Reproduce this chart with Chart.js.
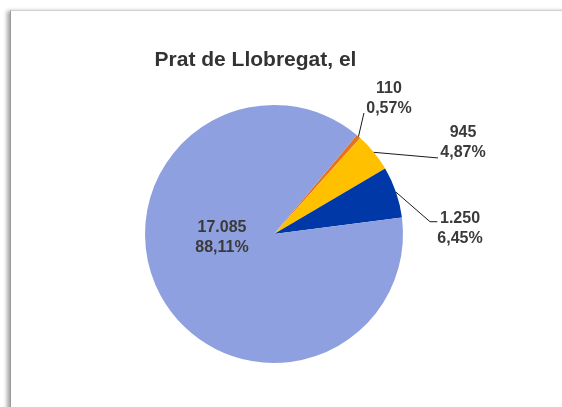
<!DOCTYPE html>
<html>
<head>
<meta charset="utf-8">
<script src="https://cdn.jsdelivr.net/npm/chart.js@4/dist/chart.umd.min.js"></script>
<style>
    body { margin: 0; background: #fff; }
    #wrap { position: relative; width: 562px; height: 407px; overflow: hidden; background: #fff; }
    #frame {
        position: absolute; left: 10px; top: 10px; width: 600px; height: 450px;
        border-left: 1px solid #9a9a9a; border-top: 1px solid #d0d0d0;
        box-shadow: -3px 1px 4px rgba(0,0,0,0.35);
        background: #fff;
    }
    #pie { position: absolute; left: 0; top: 0; }
</style>
</head>
<body>
<div id="wrap">
    <div id="frame"></div>
    <canvas id="pie" width="562" height="407"></canvas>
</div>
<script>
// data
let chartTitle = 'Prat de Llobregat, el';
let categories = ['Categoria 1', 'Categoria 2', 'Categoria 3', 'Categoria 4'];
let values = [110, 945, 1250, 17085];
let colors = ['#E8731F', '#FFC000', '#0038A8', '#8FA0E0'];

// label placement (in radius units from the centre) and leader line ends (px from label)
let labelPos = [[0.891, -1.058], [1.465, -0.719], [1.442, -0.054], [-0.403, 0.016]];
let leaders = [
    [[-25, 15.5]],
    [[-25, 16.7]],
    [[-30, -5.3], [-22.7, -5.3]],
    null
];

function fmtNum(v) {
    return String(v).replace(/\B(?=(\d{3})+(?!\d))/g, '.');
}
function fmtPct(v, total) {
    return (v / total * 100).toFixed(2).replace('.', ',') + '%';
}

let pieLabels = {
    id: 'pieLabels',
    afterDatasetsDraw(chart) {
        let ctx = chart.ctx;
        let meta = chart.getDatasetMeta(0);
        let total = values.reduce((a, b) => a + b, 0);
        ctx.save();
        meta.data.forEach((arc, i) => {
            let r = arc.outerRadius;
            let lx = arc.x + labelPos[i][0] * r;
            let ly = arc.y + labelPos[i][1] * r;
            if (leaders[i]) {
                let mid = (arc.startAngle + arc.endAngle) / 2;
                ctx.beginPath();
                ctx.moveTo(arc.x + Math.cos(mid) * r, arc.y + Math.sin(mid) * r);
                leaders[i].forEach(p => ctx.lineTo(lx + p[0], ly + p[1]));
                ctx.strokeStyle = '#1a1a1a';
                ctx.lineWidth = 1;
                ctx.stroke();
            }
            ctx.fillStyle = '#3a3a3a';
            ctx.font = 'bold 16px "Liberation Sans", Arial, sans-serif';
            ctx.textAlign = 'center';
            ctx.textBaseline = 'alphabetic';
            ctx.fillText(fmtNum(values[i]), lx, ly - 10 + 5.5);
            ctx.fillText(fmtPct(values[i], total), lx, ly + 10 + 5.5);
        });
        // title
        ctx.fillStyle = '#333333';
        ctx.font = 'bold 21px "Liberation Sans", Arial, sans-serif';
        ctx.textAlign = 'center';
        ctx.fillText(chartTitle, meta.data[0].x - 18.5, 66);
        ctx.restore();
    }
};

let ctx = document.getElementById('pie').getContext('2d');
new Chart(ctx, {
    type: 'pie',
    data: {
        labels: categories,
        datasets: [
            {
                data: values,
                backgroundColor: colors,
                borderWidth: 0
            }
        ]
    },
    options: {
        responsive: false,
        animation: false,
        events: [],
        rotation: 39.9,
        layout: {
            padding: { left: 145, right: 159, top: 105, bottom: 44 }
        },
        plugins: {
            legend: { display: false },
            title: { display: false },
            tooltip: { enabled: false }
        }
    },
    plugins: [pieLabels]
});
</script>
</body>
</html>
